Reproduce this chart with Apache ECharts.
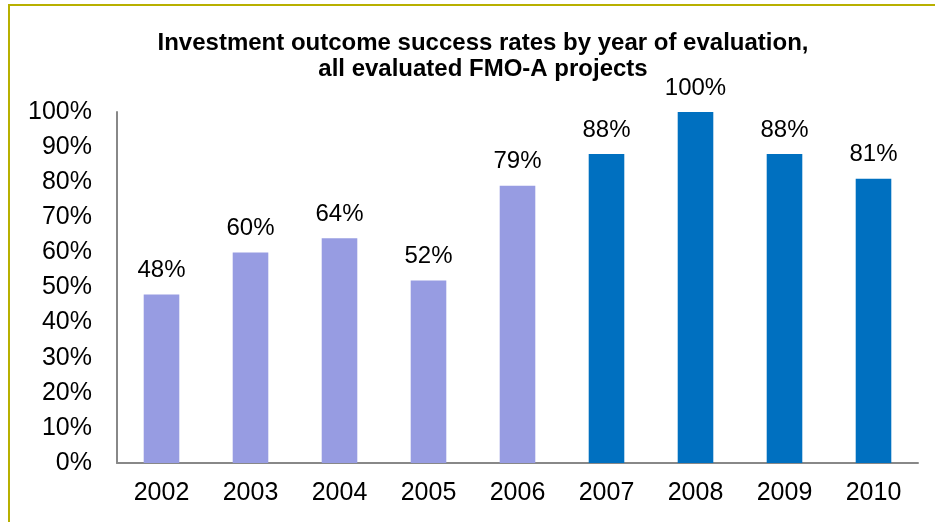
<!DOCTYPE html>
<html>
<head>
<meta charset="utf-8">
<script src="https://cdn.jsdelivr.net/npm/echarts@6/dist/echarts.min.js"></script>
<style>
  html, body { margin: 0; padding: 0; background: #fff; }
  #chart { width: 935px; height: 522px; }
</style>
</head>
<body>
<div id="chart"></div>
<script>
// data
var years = ["2002", "2003", "2004", "2005", "2006", "2007", "2008", "2009", "2010"];
var rates = [48, 60, 64, 52, 79, 88, 100, 88, 81];
var yTicks = [0, 10, 20, 30, 40, 50, 60, 70, 80, 90, 100];
// first five years light, later ones dark
var lightColor = "#979CE2";
var darkColor = "#0070C0";
var splitIndex = 5;

var myChart = echarts.init(document.getElementById("chart"));
var font = "Liberation Sans, Arial, sans-serif";

var option = {
  backgroundColor: "#fff",
  animation: false,
  title: {
    text: "Investment outcome success rates by year of evaluation,\nall evaluated FMO-A projects",
    left: 478,
    textAlign: "center",
    top: 25,
    textStyle: {
      fontFamily: font,
      fontWeight: "bold",
      fontSize: 24,
      lineHeight: 26,
      color: "#000"
    }
  },
  grid: {
    left: 117,
    right: 17,
    top: 112,
    bottom: 59
  },
  xAxis: {
    type: "category",
    data: years,
    axisLine: { lineStyle: { color: "#888", width: 2 } },
    axisTick: { show: false },
    axisLabel: {
      fontFamily: font,
      fontSize: 25,
      color: "#000",
      margin: 18
    }
  },
  yAxis: {
    type: "value",
    min: yTicks[0],
    max: yTicks[yTicks.length - 1],
    interval: 10,
    axisLine: { show: true, lineStyle: { color: "#888", width: 2 } },
    axisTick: { show: false },
    splitLine: { show: false },
    axisLabel: {
      fontFamily: font,
      fontSize: 25,
      color: "#000",
      margin: 25,
      formatter: "{value}%"
    }
  },
  series: [
    {
      type: "bar",
      barWidth: "40%",
      data: rates.map(function (v, i) {
        return { value: v, itemStyle: { color: i < splitIndex ? lightColor : darkColor } };
      }),
      label: {
        show: true,
        position: "top",
        distance: 12,
        fontFamily: font,
        fontSize: 24,
        color: "#000",
        formatter: "{c}%"
      }
    }
  ],
  graphic: [
    {
      type: "polyline",
      shape: { points: [[9, 522], [9, 5], [935, 5]] },
      style: { stroke: "#B8B000", lineWidth: 2, fill: null }
    }
  ]
};

myChart.setOption(option);
</script>
</body>
</html>
